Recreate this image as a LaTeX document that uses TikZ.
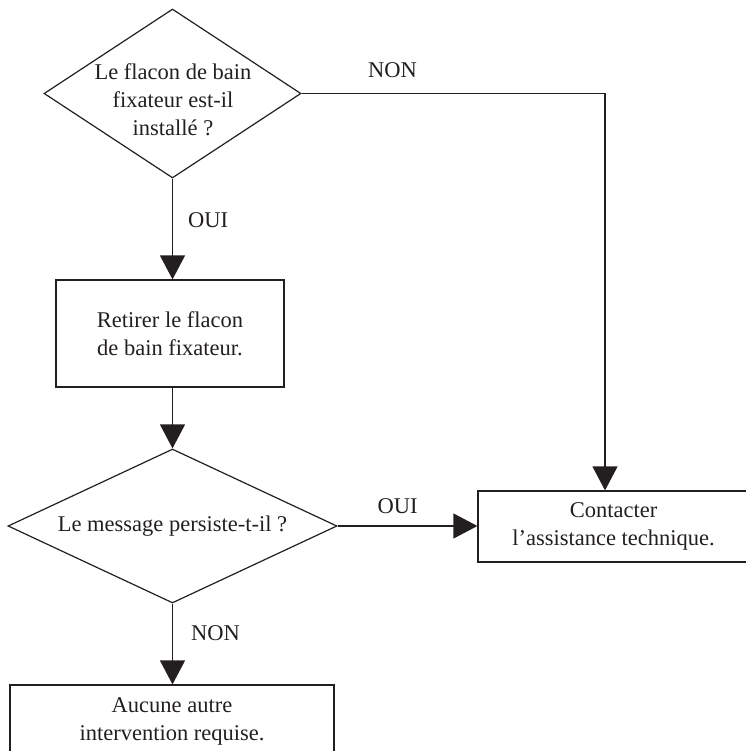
\documentclass[tikz,border=0pt]{standalone}
\usepackage{fontspec}
\setmainfont{Liberation Serif}
\usetikzlibrary{shapes.geometric,arrows.meta}
\definecolor{ink}{RGB}{35,31,32}
\tikzset{
  txt/.style={font=\fontsize{22.5}{28}\selectfont, text=ink, align=center, inner sep=0pt},
  decision/.style={diamond, draw=ink, line width=1.2pt, inner sep=0pt},
  stepbox/.style={rectangle, draw=ink, line width=1.2pt, txt},
  flow/.style={draw=ink, line width=1.2pt, -{Triangle[length=24pt,width=25pt]}}
}
\begin{document}
\begin{tikzpicture}[x=1pt,y=-1pt]
\useasboundingbox (0,0) rectangle (745,751);
\node[decision, minimum width=257pt, minimum height=169pt] (q1) at (172.5,93.5) {};
\node[txt] (q1txt) at (173,100) {Le flacon de bain\\fixateur est-il\\installé ?};
\node[stepbox, minimum width=228pt, minimum height=107pt] (retirer) at (170,333.5) {Retirer le flacon\\de bain fixateur.};
\node[decision, minimum width=329pt, minimum height=154pt] (q2) at (172.5,526) {};
\node[txt] (q2txt) at (172.5,526) {Le message persiste-t-il ?};
\node[stepbox, minimum width=271pt, minimum height=71pt] (assist) at (613.5,526.5) {Contacter\\l’assistance technique.};
\node[stepbox, minimum width=324pt, minimum height=72pt] (aucune) at (172,721) {Aucune autre\\intervention requise.};
\draw[flow] (q1.east) -| node[txt, pos=0.15, above=15pt] (non1) {NON} ([xshift=-8.5pt]assist.north);
\draw[flow] (q1.south) -- node[txt, pos=0.41, right=15pt] (oui1) {OUI} (q1.south |- retirer.north);
\draw[flow] (q2.north |- retirer.south) -- (q2.north);
\draw[flow] (q2.east) -- node[txt, pos=0.43, above=12pt] (oui2) {OUI} (q2.east -| assist.west);
\draw[flow] (q2.south) -- node[txt, pos=0.37, right=18pt] (non2) {NON} (q2.south |- aucune.north);
\end{tikzpicture}
\end{document}
